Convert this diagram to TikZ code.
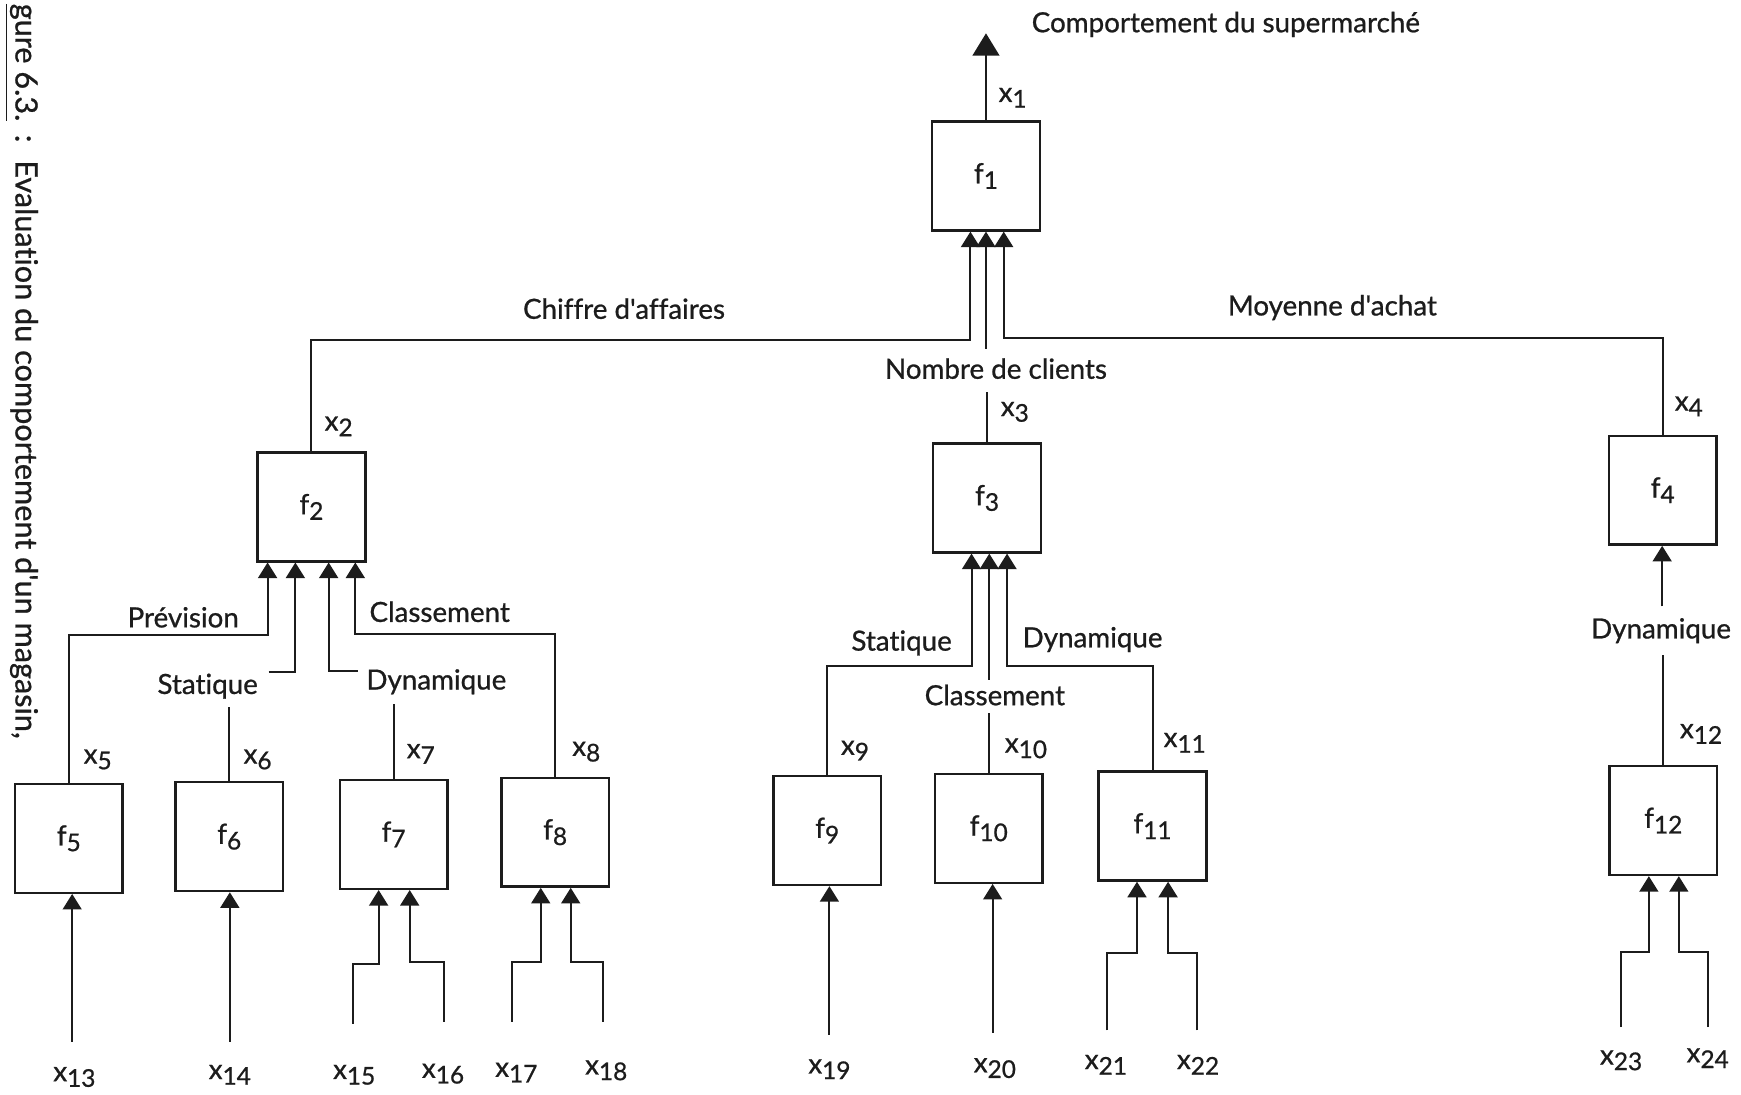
\documentclass[tikz,border=0pt]{standalone}
\usepackage{fontspec}
\setmainfont{Lato}[Ligatures={TeXOff,CommonOff}, FakeBold=0.8]
\usetikzlibrary{arrows.meta}
\definecolor{ink}{HTML}{1C1C1C}
% variable / function names with a lowered index
\newcommand{\idx}[1]{\raisebox{-0.4ex}{\fontsize{11}{13}\selectfont #1}}
\newcommand{\vx}[1]{x\idx{#1}}
\newcommand{\fn}[1]{f\idx{#1}}
\begin{document}
\begin{tikzpicture}[x=0.5pt,y=-0.5pt,
  every node/.style={font=\fontsize{12.5}{15}\selectfont, text=ink},
  fbox/.style={draw=ink, line width=1.1pt, minimum width=48.5pt, minimum height=49pt, inner sep=0pt},
  lbl/.style={inner sep=1pt},
  caption/.style={inner sep=1pt, rotate=-90, anchor=base west, font=\fontsize{13.8}{16}\selectfont},
  wire/.style={draw=ink, line width=0.9pt},
  flow/.style={wire, -{Triangle[width=8.5pt,length=7pt]}},
  bigflow/.style={wire, -{Triangle[width=12pt,length=10pt]}}]
\fill[white] (0,0) rectangle (1568,986);
\useasboundingbox (0,0) rectangle (1568,986);

% caption, written down the left margin
\node[caption] (fig) at (14,1) {\underline{gure 6.3.}};
\node[caption] (colon) at (14,119) {:};
\node[caption] (cap) at (14,142) {Evaluation du comportement d'un magasin,};

% function blocks
\node[fbox] (f1) at (888,158.5) {\fn{1}};
\node[fbox] (f2) at (280.5,456.5) {\fn{2}};
\node[fbox] (f3) at (889,448.5) {\fn{3}};
\node[fbox] (f4) at (1497.5,441.5) {\fn{4}};
\node[fbox] (f5) at (62,755) {\fn{5}};
\node[fbox] (f6) at (206.5,753.5) {\fn{6}};
\node[fbox] (f7) at (354.5,751.5) {\fn{7}};
\node[fbox] (f8) at (500,749.5) {\fn{8}};
\node[fbox] (f9) at (745,748) {\fn{9}};
\node[fbox] (f10) at (890.5,746) {\fn{10}};
\node[fbox] (f11) at (1038,744) {\fn{11}};
\node[fbox] (f12) at (1498,739) {\fn{12}};

% criterion names
\node[lbl] (tComp) at (1104,22) {Comportement du supermarché};
\node[lbl] (tCA) at (562,278) {Chiffre d'affaires};
\node[lbl] (tMA) at (1200,277) {Moyenne d'achat};
\node[lbl] (tNC) at (897,332) {Nombre de clients};
\node[lbl] (tPrev) at (165,556) {Prévision};
\node[lbl] (tCl2) at (396,551) {Classement};
\node[lbl] (tSt2) at (187,618) {Statique};
\node[lbl] (tDy2) at (393,614) {Dynamique};
\node[lbl] (tSt3) at (812,579) {Statique};
\node[lbl] (tDy3) at (984,576) {Dynamique};
\node[lbl] (tCl3) at (896,626) {Classement};
\node[lbl] (tDy4) at (1496,568) {Dynamique};

% variable names
\node[lbl] (x1) at (912,88) {\vx{1}};
\node[lbl] (x2) at (305,384) {\vx{2}};
\node[lbl] (x3) at (914,371) {\vx{3}};
\node[lbl] (x4) at (1521,366) {\vx{4}};
\node[lbl] (x5) at (88,684) {\vx{5}};
\node[lbl] (x6) at (232,684) {\vx{6}};
\node[lbl] (x7) at (379,679) {\vx{7}};
\node[lbl] (x8) at (528,677) {\vx{8}};
\node[lbl] (x9) at (770,676) {\vx{9}};
\node[lbl] (x10) at (924,674) {\vx{10}};
\node[lbl] (x11) at (1067,669) {\vx{11}};
\node[lbl] (x12) at (1532,661) {\vx{12}};
\node[lbl] (x13) at (67,970) {\vx{13}};
\node[lbl] (x14) at (207,968) {\vx{14}};
\node[lbl] (x15) at (319,968) {\vx{15}};
\node[lbl] (x16) at (399,967) {\vx{16}};
\node[lbl] (x17) at (465,966) {\vx{17}};
\node[lbl] (x18) at (546,964) {\vx{18}};
\node[lbl] (x19) at (747,963) {\vx{19}};
\node[lbl] (x20) at (896,962) {\vx{20}};
\node[lbl] (x21) at (996,959) {\vx{21}};
\node[lbl] (x22) at (1079,959) {\vx{22}};
\node[lbl] (x23) at (1460,955) {\vx{23}};
\node[lbl] (x24) at (1538,953) {\vx{24}};

% bends and loose ends of the wiring
\coordinate (top) at (888,30);
\coordinate (a1) at (874,306);
\coordinate (a3) at (904,304);
\coordinate (m1) at (888,314);
\coordinate (m2) at (888,353);
\coordinate (p1) at (241,572);
\coordinate (s0) at (242,605);
\coordinate (s1) at (266,605);
\coordinate (s6) at (207,637);
\coordinate (d0) at (322,604);
\coordinate (d1) at (296,604);
\coordinate (d7) at (356,634);
\coordinate (k1) at (320,571);
\coordinate (s9) at (875,600);
\coordinate (k10) at (891,612);
\coordinate (c10) at (892,642);
\coordinate (d11) at (907,600);
\coordinate (d4) at (1497,546);
\coordinate (d12) at (1498,590);
\coordinate (i13) at (65,938);
\coordinate (i14) at (207,938);
\coordinate (i15) at (318,922);
\coordinate (j15) at (341,868);
\coordinate (i16) at (400,920);
\coordinate (j16) at (369,866);
\coordinate (i17) at (461,920);
\coordinate (j17) at (487,866);
\coordinate (i18) at (543,920);
\coordinate (j18) at (514,866);
\coordinate (i19) at (747,932);
\coordinate (i20) at (894,930);
\coordinate (i21) at (997,928);
\coordinate (j21) at (1024,858);
\coordinate (i22) at (1078,928);
\coordinate (j22) at (1052,858);
\coordinate (i23) at (1460,925);
\coordinate (j23) at (1485,857);
\coordinate (i24) at (1538,925);
\coordinate (j24) at (1512,857);

% output of the whole tree
\draw[bigflow] (f1.north) -- (top);

% into f1
\draw[flow] (f2.north) |- (a1) -- (a1 |- f1.south);
\draw[flow] (m1) -- (m1 |- f1.south);
\draw[wire] (f3.north) -- (f3.north |- m2);
\draw[flow] (f4.north) |- (a3) -- (a3 |- f1.south);

% into f2
\draw[flow] (f5.north) |- (p1) -- (p1 |- f2.south);
\draw[flow] (s0) -- (s1) -- (s1 |- f2.south);
\draw[wire] (f6.north) -- (f6.north |- s6);
\draw[flow] (d0) -- (d1) -- (d1 |- f2.south);
\draw[wire] (f7.north) -- (f7.north |- d7);
\draw[flow] (f8.north) |- (k1) -- (k1 |- f2.south);

% into f3
\draw[flow] (f9.north) |- (s9) -- (s9 |- f3.south);
\draw[flow] (k10) -- (k10 |- f3.south);
\draw[wire] (f10.north) -- (f10.north |- c10);
\draw[flow] (f11.north) |- (d11) -- (d11 |- f3.south);

% into f4
\draw[flow] (d4) -- (d4 |- f4.south);
\draw[wire] (f12.north) -- (f12.north |- d12);

% elementary inputs
\draw[flow] (i13) -- (i13 |- f5.south);
\draw[flow] (i14) -- (i14 |- f6.south);
\draw[flow] (i15) |- (j15) -- (j15 |- f7.south);
\draw[flow] (i16) |- (j16) -- (j16 |- f7.south);
\draw[flow] (i17) |- (j17) -- (j17 |- f8.south);
\draw[flow] (i18) |- (j18) -- (j18 |- f8.south);
\draw[flow] (i19) -- (i19 |- f9.south);
\draw[flow] (i20) -- (i20 |- f10.south);
\draw[flow] (i21) |- (j21) -- (j21 |- f11.south);
\draw[flow] (i22) |- (j22) -- (j22 |- f11.south);
\draw[flow] (i23) |- (j23) -- (j23 |- f12.south);
\draw[flow] (i24) |- (j24) -- (j24 |- f12.south);
\end{tikzpicture}
\end{document}
